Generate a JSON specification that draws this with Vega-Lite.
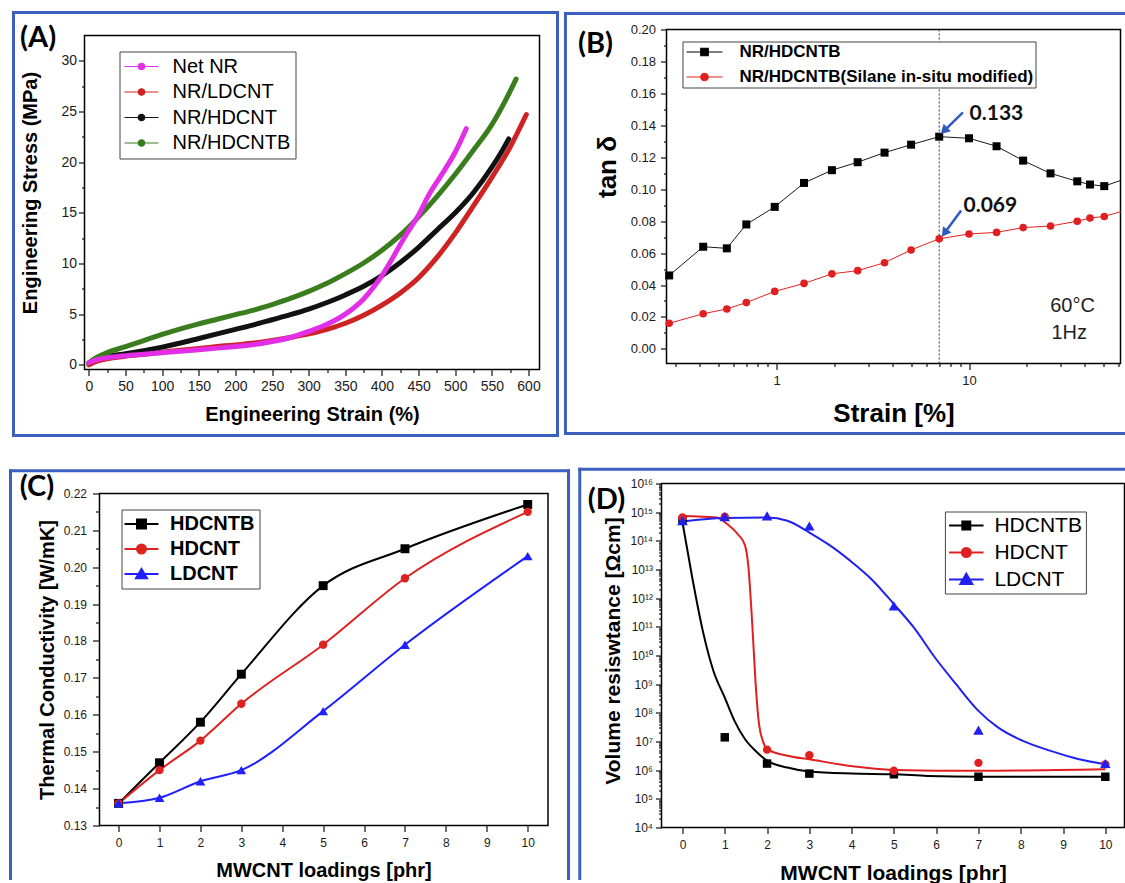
{
  "$schema": "https://vega.github.io/schema/vega-lite/v6.json",
  "background": "white",
  "padding": {"left": 7.5, "top": 10.5, "right": 0, "bottom": 0},
  "config": {
    "font": "Liberation Sans",
    "view": {"stroke": "#000000", "strokeWidth": 1.5},
    "axis": {"grid": false, "domain": false, "tickColor": "#111111", "tickWidth": 1.2, "labelColor": "#1a1a1a", "titleColor": "#000000", "titleFontWeight": "bold", "labelFlush": false, "labelOverlap": false, "labelBound": false},
    "legend": {"cornerRadius": 0}
  },
  "datasets": {
    "A": [
      {"series": "Net NR", "strain": 0, "stress": 0.2}, {"series": "Net NR", "strain": 10, "stress": 0.5}, {"series": "Net NR", "strain": 25, "stress": 0.7}, {"series": "Net NR", "strain": 50, "stress": 0.9}, {"series": "Net NR", "strain": 75, "stress": 1.05}, {"series": "Net NR", "strain": 100, "stress": 1.2}, {"series": "Net NR", "strain": 125, "stress": 1.35}, {"series": "Net NR", "strain": 150, "stress": 1.5}, {"series": "Net NR", "strain": 175, "stress": 1.65}, {"series": "Net NR", "strain": 200, "stress": 1.8}, {"series": "Net NR", "strain": 225, "stress": 2.0}, {"series": "Net NR", "strain": 250, "stress": 2.3}, {"series": "Net NR", "strain": 275, "stress": 2.7}, {"series": "Net NR", "strain": 300, "stress": 3.3}, {"series": "Net NR", "strain": 325, "stress": 4.0}, {"series": "Net NR", "strain": 350, "stress": 5.0}, {"series": "Net NR", "strain": 375, "stress": 6.5}, {"series": "Net NR", "strain": 390, "stress": 7.8}, {"series": "Net NR", "strain": 400, "stress": 8.8}, {"series": "Net NR", "strain": 415, "stress": 10.6}, {"series": "Net NR", "strain": 430, "stress": 12.5}, {"series": "Net NR", "strain": 450, "stress": 14.8}, {"series": "Net NR", "strain": 465, "stress": 16.9}, {"series": "Net NR", "strain": 480, "stress": 18.6}, {"series": "Net NR", "strain": 500, "stress": 21.0}, {"series": "Net NR", "strain": 515, "stress": 23.3},
      {"series": "NR/LDCNT", "strain": 0, "stress": 0.0}, {"series": "NR/LDCNT", "strain": 10, "stress": 0.35}, {"series": "NR/LDCNT", "strain": 25, "stress": 0.6}, {"series": "NR/LDCNT", "strain": 50, "stress": 0.85}, {"series": "NR/LDCNT", "strain": 75, "stress": 1.05}, {"series": "NR/LDCNT", "strain": 100, "stress": 1.25}, {"series": "NR/LDCNT", "strain": 125, "stress": 1.45}, {"series": "NR/LDCNT", "strain": 150, "stress": 1.62}, {"series": "NR/LDCNT", "strain": 175, "stress": 1.8}, {"series": "NR/LDCNT", "strain": 200, "stress": 1.97}, {"series": "NR/LDCNT", "strain": 225, "stress": 2.15}, {"series": "NR/LDCNT", "strain": 250, "stress": 2.4}, {"series": "NR/LDCNT", "strain": 275, "stress": 2.7}, {"series": "NR/LDCNT", "strain": 300, "stress": 3.05}, {"series": "NR/LDCNT", "strain": 325, "stress": 3.5}, {"series": "NR/LDCNT", "strain": 350, "stress": 4.1}, {"series": "NR/LDCNT", "strain": 375, "stress": 4.9}, {"series": "NR/LDCNT", "strain": 400, "stress": 5.9}, {"series": "NR/LDCNT", "strain": 425, "stress": 7.1}, {"series": "NR/LDCNT", "strain": 450, "stress": 8.6}, {"series": "NR/LDCNT", "strain": 475, "stress": 10.6}, {"series": "NR/LDCNT", "strain": 500, "stress": 13.0}, {"series": "NR/LDCNT", "strain": 525, "stress": 15.7}, {"series": "NR/LDCNT", "strain": 550, "stress": 18.5}, {"series": "NR/LDCNT", "strain": 575, "stress": 21.5}, {"series": "NR/LDCNT", "strain": 597, "stress": 24.7},
      {"series": "NR/HDCNT", "strain": 0, "stress": 0.2}, {"series": "NR/HDCNT", "strain": 10, "stress": 0.6}, {"series": "NR/HDCNT", "strain": 25, "stress": 0.85}, {"series": "NR/HDCNT", "strain": 50, "stress": 1.1}, {"series": "NR/HDCNT", "strain": 75, "stress": 1.4}, {"series": "NR/HDCNT", "strain": 100, "stress": 1.75}, {"series": "NR/HDCNT", "strain": 125, "stress": 2.15}, {"series": "NR/HDCNT", "strain": 150, "stress": 2.6}, {"series": "NR/HDCNT", "strain": 175, "stress": 3.05}, {"series": "NR/HDCNT", "strain": 200, "stress": 3.5}, {"series": "NR/HDCNT", "strain": 225, "stress": 3.95}, {"series": "NR/HDCNT", "strain": 250, "stress": 4.45}, {"series": "NR/HDCNT", "strain": 275, "stress": 4.95}, {"series": "NR/HDCNT", "strain": 300, "stress": 5.5}, {"series": "NR/HDCNT", "strain": 325, "stress": 6.15}, {"series": "NR/HDCNT", "strain": 350, "stress": 6.9}, {"series": "NR/HDCNT", "strain": 375, "stress": 7.75}, {"series": "NR/HDCNT", "strain": 400, "stress": 8.8}, {"series": "NR/HDCNT", "strain": 425, "stress": 10.1}, {"series": "NR/HDCNT", "strain": 450, "stress": 11.6}, {"series": "NR/HDCNT", "strain": 475, "stress": 13.3}, {"series": "NR/HDCNT", "strain": 500, "stress": 15.0}, {"series": "NR/HDCNT", "strain": 525, "stress": 17.0}, {"series": "NR/HDCNT", "strain": 550, "stress": 19.5}, {"series": "NR/HDCNT", "strain": 563, "stress": 21.0}, {"series": "NR/HDCNT", "strain": 573, "stress": 22.3},
      {"series": "NR/HDCNTB", "strain": 0, "stress": 0.2}, {"series": "NR/HDCNTB", "strain": 10, "stress": 0.7}, {"series": "NR/HDCNTB", "strain": 25, "stress": 1.2}, {"series": "NR/HDCNTB", "strain": 50, "stress": 1.8}, {"series": "NR/HDCNTB", "strain": 75, "stress": 2.4}, {"series": "NR/HDCNTB", "strain": 100, "stress": 3.0}, {"series": "NR/HDCNTB", "strain": 125, "stress": 3.55}, {"series": "NR/HDCNTB", "strain": 150, "stress": 4.05}, {"series": "NR/HDCNTB", "strain": 175, "stress": 4.5}, {"series": "NR/HDCNTB", "strain": 200, "stress": 4.95}, {"series": "NR/HDCNTB", "strain": 225, "stress": 5.4}, {"series": "NR/HDCNTB", "strain": 250, "stress": 5.95}, {"series": "NR/HDCNTB", "strain": 275, "stress": 6.55}, {"series": "NR/HDCNTB", "strain": 300, "stress": 7.25}, {"series": "NR/HDCNTB", "strain": 325, "stress": 8.05}, {"series": "NR/HDCNTB", "strain": 350, "stress": 9.0}, {"series": "NR/HDCNTB", "strain": 375, "stress": 10.05}, {"series": "NR/HDCNTB", "strain": 400, "stress": 11.3}, {"series": "NR/HDCNTB", "strain": 425, "stress": 12.8}, {"series": "NR/HDCNTB", "strain": 450, "stress": 14.6}, {"series": "NR/HDCNTB", "strain": 475, "stress": 16.6}, {"series": "NR/HDCNTB", "strain": 500, "stress": 18.8}, {"series": "NR/HDCNTB", "strain": 525, "stress": 21.2}, {"series": "NR/HDCNTB", "strain": 550, "stress": 23.7}, {"series": "NR/HDCNTB", "strain": 570, "stress": 26.3}, {"series": "NR/HDCNTB", "strain": 583, "stress": 28.2}
    ],
    "B": [
      {"series": "NR/HDCNTB", "strain": 0.277, "tand": 0.046}, {"series": "NR/HDCNTB", "strain": 0.416, "tand": 0.064}, {"series": "NR/HDCNTB", "strain": 0.552, "tand": 0.063}, {"series": "NR/HDCNTB", "strain": 0.697, "tand": 0.078}, {"series": "NR/HDCNTB", "strain": 0.979, "tand": 0.089}, {"series": "NR/HDCNTB", "strain": 1.39, "tand": 0.104}, {"series": "NR/HDCNTB", "strain": 1.94, "tand": 0.112}, {"series": "NR/HDCNTB", "strain": 2.64, "tand": 0.117}, {"series": "NR/HDCNTB", "strain": 3.64, "tand": 0.123}, {"series": "NR/HDCNTB", "strain": 5.0, "tand": 0.128}, {"series": "NR/HDCNTB", "strain": 7.0, "tand": 0.133}, {"series": "NR/HDCNTB", "strain": 10.0, "tand": 0.132}, {"series": "NR/HDCNTB", "strain": 13.9, "tand": 0.127}, {"series": "NR/HDCNTB", "strain": 19.1, "tand": 0.118}, {"series": "NR/HDCNTB", "strain": 26.5, "tand": 0.110}, {"series": "NR/HDCNTB", "strain": 36.5, "tand": 0.105}, {"series": "NR/HDCNTB", "strain": 42.5, "tand": 0.103}, {"series": "NR/HDCNTB", "strain": 50.4, "tand": 0.102}, {"series": "NR/HDCNTB", "strain": 70, "tand": 0.108},
      {"series": "NR/HDCNTB(Silane in-situ modified)", "strain": 0.277, "tand": 0.016}, {"series": "NR/HDCNTB(Silane in-situ modified)", "strain": 0.416, "tand": 0.022}, {"series": "NR/HDCNTB(Silane in-situ modified)", "strain": 0.552, "tand": 0.025}, {"series": "NR/HDCNTB(Silane in-situ modified)", "strain": 0.697, "tand": 0.029}, {"series": "NR/HDCNTB(Silane in-situ modified)", "strain": 0.979, "tand": 0.036}, {"series": "NR/HDCNTB(Silane in-situ modified)", "strain": 1.39, "tand": 0.041}, {"series": "NR/HDCNTB(Silane in-situ modified)", "strain": 1.94, "tand": 0.047}, {"series": "NR/HDCNTB(Silane in-situ modified)", "strain": 2.64, "tand": 0.049}, {"series": "NR/HDCNTB(Silane in-situ modified)", "strain": 3.64, "tand": 0.054}, {"series": "NR/HDCNTB(Silane in-situ modified)", "strain": 5.0, "tand": 0.062}, {"series": "NR/HDCNTB(Silane in-situ modified)", "strain": 7.0, "tand": 0.069}, {"series": "NR/HDCNTB(Silane in-situ modified)", "strain": 10.0, "tand": 0.072}, {"series": "NR/HDCNTB(Silane in-situ modified)", "strain": 13.9, "tand": 0.073}, {"series": "NR/HDCNTB(Silane in-situ modified)", "strain": 19.1, "tand": 0.076}, {"series": "NR/HDCNTB(Silane in-situ modified)", "strain": 26.5, "tand": 0.077}, {"series": "NR/HDCNTB(Silane in-situ modified)", "strain": 36.5, "tand": 0.080}, {"series": "NR/HDCNTB(Silane in-situ modified)", "strain": 42.5, "tand": 0.082}, {"series": "NR/HDCNTB(Silane in-situ modified)", "strain": 50.4, "tand": 0.083}, {"series": "NR/HDCNTB(Silane in-situ modified)", "strain": 70, "tand": 0.088}
    ],
    "C": [
      {"series": "HDCNTB", "loading": 0, "tc": 0.136}, {"series": "HDCNTB", "loading": 1, "tc": 0.147}, {"series": "HDCNTB", "loading": 2, "tc": 0.158}, {"series": "HDCNTB", "loading": 3, "tc": 0.171}, {"series": "HDCNTB", "loading": 5, "tc": 0.195}, {"series": "HDCNTB", "loading": 7, "tc": 0.205}, {"series": "HDCNTB", "loading": 10, "tc": 0.217},
      {"series": "HDCNT", "loading": 0, "tc": 0.136}, {"series": "HDCNT", "loading": 1, "tc": 0.145}, {"series": "HDCNT", "loading": 2, "tc": 0.153}, {"series": "HDCNT", "loading": 3, "tc": 0.163}, {"series": "HDCNT", "loading": 5, "tc": 0.179}, {"series": "HDCNT", "loading": 7, "tc": 0.197}, {"series": "HDCNT", "loading": 10, "tc": 0.215},
      {"series": "LDCNT", "loading": 0, "tc": 0.136}, {"series": "LDCNT", "loading": 1, "tc": 0.1375}, {"series": "LDCNT", "loading": 2, "tc": 0.142}, {"series": "LDCNT", "loading": 3, "tc": 0.145}, {"series": "LDCNT", "loading": 5, "tc": 0.161}, {"series": "LDCNT", "loading": 7, "tc": 0.179}, {"series": "LDCNT", "loading": 10, "tc": 0.203}
    ],
    "Dpts": [
      {"series": "HDCNTB", "loading": 0, "rho": 5.0e14}, {"series": "HDCNTB", "loading": 1, "rho": 1.4e7}, {"series": "HDCNTB", "loading": 2, "rho": 1.7e6}, {"series": "HDCNTB", "loading": 3, "rho": 7.6e5}, {"series": "HDCNTB", "loading": 5, "rho": 7.2e5}, {"series": "HDCNTB", "loading": 7, "rho": 5.9e5}, {"series": "HDCNTB", "loading": 10, "rho": 5.9e5},
      {"series": "HDCNT", "loading": 0, "rho": 6.5e14}, {"series": "HDCNT", "loading": 1, "rho": 6.9e14}, {"series": "HDCNT", "loading": 2, "rho": 5.2e6}, {"series": "HDCNT", "loading": 3, "rho": 3.3e6}, {"series": "HDCNT", "loading": 5, "rho": 9.5e5}, {"series": "HDCNT", "loading": 7, "rho": 1.8e6}, {"series": "HDCNT", "loading": 10, "rho": 1.6e6},
      {"series": "LDCNT", "loading": 0, "rho": 5.0e14}, {"series": "LDCNT", "loading": 1, "rho": 6.9e14}, {"series": "LDCNT", "loading": 2, "rho": 7.4e14}, {"series": "LDCNT", "loading": 3, "rho": 3.3e14}, {"series": "LDCNT", "loading": 5, "rho": 5.4e11}, {"series": "LDCNT", "loading": 7, "rho": 2.5e7}, {"series": "LDCNT", "loading": 10, "rho": 1.7e6}
    ],
    "Dfit": [
      {"series": "HDCNTB", "loading": 0, "rho": 4.37e14}, {"series": "HDCNTB", "loading": 0.23, "rho": 5.25e12}, {"series": "HDCNTB", "loading": 0.48, "rho": 7.24e10}, {"series": "HDCNTB", "loading": 0.73, "rho": 2.95e9}, {"series": "HDCNTB", "loading": 1.0, "rho": 3.39e8}, {"series": "HDCNTB", "loading": 1.23, "rho": 5.25e7}, {"series": "HDCNTB", "loading": 1.48, "rho": 1.2e7}, {"series": "HDCNTB", "loading": 1.73, "rho": 4.68e6}, {"series": "HDCNTB", "loading": 2.0, "rho": 2.14e6}, {"series": "HDCNTB", "loading": 2.48, "rho": 1.23e6}, {"series": "HDCNTB", "loading": 3.0, "rho": 8.9e5}, {"series": "HDCNTB", "loading": 4.0, "rho": 7.6e5}, {"series": "HDCNTB", "loading": 5.0, "rho": 7.2e5}, {"series": "HDCNTB", "loading": 5.8, "rho": 6.3e5}, {"series": "HDCNTB", "loading": 7.0, "rho": 5.9e5}, {"series": "HDCNTB", "loading": 10.0, "rho": 5.9e5},
      {"series": "HDCNT", "loading": 0, "rho": 7.4e14}, {"series": "HDCNT", "loading": 0.81, "rho": 6.5e14}, {"series": "HDCNT", "loading": 1.06, "rho": 3.8e14}, {"series": "HDCNT", "loading": 1.31, "rho": 1.7e14}, {"series": "HDCNT", "loading": 1.48, "rho": 6.8e13}, {"series": "HDCNT", "loading": 1.56, "rho": 1.17e13}, {"series": "HDCNT", "loading": 1.65, "rho": 1.23e11}, {"series": "HDCNT", "loading": 1.73, "rho": 1.0e9}, {"series": "HDCNT", "loading": 1.81, "rho": 4.0e7}, {"series": "HDCNT", "loading": 1.9, "rho": 1.05e7}, {"series": "HDCNT", "loading": 2.0, "rho": 5.4e6}, {"series": "HDCNT", "loading": 2.48, "rho": 3.2e6}, {"series": "HDCNT", "loading": 3.0, "rho": 2.4e6}, {"series": "HDCNT", "loading": 3.97, "rho": 1.4e6}, {"series": "HDCNT", "loading": 5.0, "rho": 1.02e6}, {"series": "HDCNT", "loading": 7.0, "rho": 9.5e5}, {"series": "HDCNT", "loading": 10.0, "rho": 1.07e6},
      {"series": "LDCNT", "loading": 0, "rho": 4.7e14}, {"series": "LDCNT", "loading": 1.0, "rho": 6.2e14}, {"series": "LDCNT", "loading": 2.0, "rho": 6.5e14}, {"series": "LDCNT", "loading": 2.48, "rho": 5.0e14}, {"series": "LDCNT", "loading": 3.0, "rho": 1.95e14}, {"series": "LDCNT", "loading": 3.47, "rho": 7.2e13}, {"series": "LDCNT", "loading": 3.97, "rho": 2.0e13}, {"series": "LDCNT", "loading": 4.47, "rho": 4.6e12}, {"series": "LDCNT", "loading": 5.0, "rho": 6.2e11}, {"series": "LDCNT", "loading": 5.47, "rho": 9.5e10}, {"series": "LDCNT", "loading": 5.97, "rho": 8.5e9}, {"series": "LDCNT", "loading": 6.47, "rho": 1.0e9}, {"series": "LDCNT", "loading": 7.0, "rho": 1.17e8}, {"series": "LDCNT", "loading": 7.46, "rho": 3.1e7}, {"series": "LDCNT", "loading": 8.05, "rho": 1.05e7}, {"series": "LDCNT", "loading": 8.71, "rho": 4.7e6}, {"series": "LDCNT", "loading": 9.38, "rho": 2.4e6}, {"series": "LDCNT", "loading": 10.0, "rho": 1.6e6}
    ]
  },
  "spacing": 28,
  "resolve": {"scale": {"fill": "independent", "stroke": "independent", "shape": "independent"}, "legend": {"fill": "independent", "stroke": "independent", "shape": "independent"}},
  "vconcat": [
    {
      "spacing": 3,
      "resolve": {"scale": {"fill": "independent", "stroke": "independent", "shape": "independent"}, "legend": {"fill": "independent", "stroke": "independent", "shape": "independent"}},
      "hconcat": [
        {
          "width": 455, "height": 340,
          "view": {"stroke": null},
          "layer": [
            {"data": {"values": [{}]}, "mark": {"type": "rect", "filled": false, "stroke": "#3c5fc0", "strokeWidth": 3},
             "encoding": {"x": {"datum": -102.9, "type": "quantitative"}, "x2": {"datum": 639.6}, "y": {"datum": 34.77, "type": "quantitative"}, "y2": {"datum": -6.97}}},
            {"data": {"values": [{}]}, "mark": {"type": "rect", "filled": false, "stroke": "#000000", "strokeWidth": 1.5},
             "encoding": {"x": {"datum": -6, "type": "quantitative"}, "x2": {"datum": 615}, "y": {"datum": 32.5, "type": "quantitative"}, "y2": {"datum": -0.46}}},
            {"data": {"name": "A"}, "transform": [{"filter": "datum.series === 'NR/LDCNT'"}],
             "mark": {"type": "line", "color": "#cf2222", "strokeWidth": 5, "interpolate": "monotone", "strokeCap": "round"},
             "encoding": {
               "x": {"field": "strain", "type": "quantitative", "scale": {"domain": [-6, 615], "nice": false, "zero": false},
                     "axis": {"title": "Engineering Strain (%)", "titleFontSize": 20, "titlePadding": 11, "labelFontSize": 14, "labelPadding": 4, "labelOverlap": false, "tickCount": 500, "format": "d",
                              "values": [0,25,50,75,100,125,150,175,200,225,250,275,300,325,350,375,400,425,450,475,500,525,550,575,600],
                              "labelExpr": "datum.value % 50 === 0 ? datum.label : ''",
                              "tickSize": {"condition": {"test": "datum.value % 50 === 0", "value": 6}, "value": 3}}},
               "y": {"field": "stress", "type": "quantitative", "scale": {"domain": [-0.46, 33.09], "nice": false, "zero": false},
                     "axis": {"title": "Engineering Stress (MPa)", "titleFontSize": 20, "titlePadding": 20, "titleY": 163, "labelFontSize": 14, "labelPadding": 2, "labelOverlap": false, "tickCount": 500, "format": "d",
                              "values": [0,2.5,5,7.5,10,12.5,15,17.5,20,22.5,25,27.5,30],
                              "labelExpr": "datum.value % 5 === 0 ? datum.label : ''",
                              "tickSize": {"condition": {"test": "datum.value % 5 === 0", "value": 6}, "value": 3}}}}},
            {"data": {"name": "A"}, "transform": [{"filter": "datum.series === 'NR/HDCNT'"}],
             "mark": {"type": "line", "color": "#111111", "strokeWidth": 5, "interpolate": "monotone", "strokeCap": "round"},
             "encoding": {"x": {"field": "strain", "type": "quantitative"}, "y": {"field": "stress", "type": "quantitative"}}},
            {"data": {"name": "A"}, "transform": [{"filter": "datum.series === 'NR/HDCNTB'"}],
             "mark": {"type": "line", "color": "#3a7d1c", "strokeWidth": 5, "interpolate": "monotone", "strokeCap": "round"},
             "encoding": {"x": {"field": "strain", "type": "quantitative"}, "y": {"field": "stress", "type": "quantitative"}}},
            {"data": {"name": "A"}, "transform": [{"filter": "datum.series === 'Net NR'"}],
             "mark": {"type": "line", "color": "#e22ee6", "strokeWidth": 5, "interpolate": "monotone", "strokeCap": "round"},
             "encoding": {"x": {"field": "strain", "type": "quantitative"}, "y": {"field": "stress", "type": "quantitative"}}},
            {"data": {"name": "A"}, "transform": [{"filter": "false"}],
             "mark": {"type": "point", "filled": true, "opacity": 1, "size": 100, "strokeWidth": 1.2},
             "encoding": {
               "fill": {"field": "series", "type": "nominal",
                        "scale": {"domain": ["Net NR", "NR/LDCNT", "NR/HDCNT", "NR/HDCNTB"], "range": ["#e22ee6", "#cf2222", "#111111", "#3a7d1c"]},
                        "legend": {"title": null, "orient": "none", "legendX": 35, "legendY": 22, "padding": 5, "strokeColor": "#444444", "fillColor": "#ffffff", "labelFontSize": 20, "labelColor": "#000000", "symbolType": "M-3.4,0L3.4,0M-0.65,0A0.65,0.65,0,1,0,0.65,0A0.65,0.65,0,1,0,-0.65,0Z", "symbolSize": 100, "symbolStrokeWidth": 1.2, "symbolOffset": 7, "labelOffset": 21, "rowPadding": 5.5, "labelLimit": 500}},
               "stroke": {"field": "series", "type": "nominal",
                        "scale": {"domain": ["Net NR", "NR/LDCNT", "NR/HDCNT", "NR/HDCNTB"], "range": ["#e22ee6", "#cf2222", "#111111", "#3a7d1c"]},
                        "legend": {"title": null, "orient": "none", "legendX": 35, "legendY": 22, "padding": 5, "strokeColor": "#444444", "fillColor": "#ffffff", "labelFontSize": 20, "labelColor": "#000000", "symbolType": "M-3.4,0L3.4,0M-0.65,0A0.65,0.65,0,1,0,0.65,0A0.65,0.65,0,1,0,-0.65,0Z", "symbolSize": 100, "symbolStrokeWidth": 1.2, "symbolOffset": 7, "labelOffset": 21, "rowPadding": 5.5, "labelLimit": 500}}}},
            {"data": {"values": [{}]}, "mark": {"type": "text", "text": "(A)", "font": "Lato", "fontSize": 29, "fontWeight": "bold", "color": "#000000", "align": "center", "baseline": "middle"},
             "encoding": {"x": {"datum": -69.3, "type": "quantitative"}, "y": {"datum": 32.25, "type": "quantitative"}}}
          ]
        },
        {
          "width": 454, "height": 334,
          "layer": [
            {"data": {"values": [{}]}, "mark": {"type": "rule", "stroke": "#3c5fc0", "strokeWidth": 3, "strokeCap": "square"},
             "encoding": {"x": {"datum": 0.08014, "type": "quantitative"}, "x2": {"datum": 64.5}, "y": {"datum": 0.2102, "type": "quantitative"}}},
            {"data": {"values": [{}]}, "mark": {"type": "rule", "stroke": "#3c5fc0", "strokeWidth": 3, "strokeCap": "square"},
             "encoding": {"x": {"datum": 0.08014, "type": "quantitative"}, "y": {"datum": 0.2102, "type": "quantitative"}, "y2": {"datum": -0.0531}}},
            {"data": {"values": [{}]}, "mark": {"type": "rule", "stroke": "#3c5fc0", "strokeWidth": 3, "strokeCap": "square"},
             "encoding": {"x": {"datum": 0.08014, "type": "quantitative"}, "x2": {"datum": 64.5}, "y": {"datum": -0.0531, "type": "quantitative"}}},
            {"data": {"values": [{}]}, "mark": {"type": "rule", "stroke": "#333333", "strokeWidth": 1, "strokeDash": [2, 2]},
             "encoding": {"x": {"datum": 7, "type": "quantitative"}}},
            {"data": {"name": "B"}, "transform": [{"filter": "datum.series === 'NR/HDCNTB'"}],
             "mark": {"type": "line", "color": "#1a1a1a", "strokeWidth": 1, "clip": true},
             "encoding": {
               "x": {"field": "strain", "type": "quantitative", "scale": {"type": "log", "domain": [0.2683, 61.2], "nice": false},
                     "axis": {"title": "Strain [%]", "titleFontSize": 26, "titlePadding": 13, "labelFontSize": 13, "labelPadding": 5, "labelOverlap": false, "tickCount": 500,
                              "values": [0.3,0.4,0.5,0.6,0.7,0.8,0.9,1,2,3,4,5,6,7,8,9,10,20,30,40,50,60],
                              "labelExpr": "datum.value === 1 ? '1' : (datum.value === 10 ? '10' : '')",
                              "tickSize": {"condition": {"test": "datum.value === 1 || datum.value === 10", "value": 6}, "value": 3}}},
               "y": {"field": "tand", "type": "quantitative", "scale": {"domain": [-0.0092, 0.2002], "nice": false, "zero": false},
                     "axis": {"title": "tan δ", "titleFontSize": 26, "titlePadding": 10, "titleY": 137, "labelFontSize": 13, "labelPadding": 5, "format": ".2f", "labelOverlap": false, "tickCount": 500,
                              "values": [0,0.01,0.02,0.03,0.04,0.05,0.06,0.07,0.08,0.09,0.1,0.11,0.12,0.13,0.14,0.15,0.16,0.17,0.18,0.19,0.2],
                              "labelExpr": "round(datum.value * 100) % 2 === 0 ? datum.label : ''",
                              "tickSize": {"condition": {"test": "round(datum.value * 100) % 2 === 0", "value": 6}, "value": 3}}}}},
            {"data": {"name": "B"}, "transform": [{"filter": "datum.series === 'NR/HDCNTB(Silane in-situ modified)'"}],
             "mark": {"type": "line", "color": "#e82020", "strokeWidth": 1, "clip": true},
             "encoding": {"x": {"field": "strain", "type": "quantitative"}, "y": {"field": "tand", "type": "quantitative"}}},
            {"data": {"name": "B"}, "transform": [{"filter": "datum.series === 'NR/HDCNTB' && datum.strain < 65"}],
             "mark": {"type": "point", "shape": "square", "filled": true, "color": "#000000", "size": 64, "opacity": 1},
             "encoding": {"x": {"field": "strain", "type": "quantitative"}, "y": {"field": "tand", "type": "quantitative"}}},
            {"data": {"name": "B"}, "transform": [{"filter": "datum.series === 'NR/HDCNTB(Silane in-situ modified)' && datum.strain < 65"}],
             "mark": {"type": "point", "shape": "circle", "filled": true, "color": "#e02020", "size": 58, "opacity": 1},
             "encoding": {"x": {"field": "strain", "type": "quantitative"}, "y": {"field": "tand", "type": "quantitative"}}},
            {"data": {"name": "B"}, "transform": [{"filter": "false"}],
             "mark": {"type": "point", "filled": true, "opacity": 1, "size": 100, "strokeWidth": 1.2},
             "encoding": {
               "fill": {"field": "series", "type": "nominal",
                        "scale": {"domain": ["NR/HDCNTB", "NR/HDCNTB(Silane in-situ modified)"], "range": ["#000000", "#e02020"]},
                        "legend": {"title": null, "orient": "none", "legendX": 16, "legendY": 12, "padding": 2, "strokeColor": "#444444", "fillColor": "#ffffff", "labelFontSize": 17, "labelFontWeight": "bold", "labelColor": "#000000", "symbolSize": 100, "symbolStrokeWidth": 1.2, "symbolOffset": 11.5, "labelOffset": 26.5, "rowPadding": 7, "labelLimit": 500}},
               "stroke": {"field": "series", "type": "nominal",
                        "scale": {"domain": ["NR/HDCNTB", "NR/HDCNTB(Silane in-situ modified)"], "range": ["#000000", "#e02020"]},
                        "legend": {"title": null, "orient": "none", "legendX": 16, "legendY": 12, "padding": 2, "strokeColor": "#444444", "fillColor": "#ffffff", "labelFontSize": 17, "labelFontWeight": "bold", "labelColor": "#000000", "symbolSize": 100, "symbolStrokeWidth": 1.2, "symbolOffset": 11.5, "labelOffset": 26.5, "rowPadding": 7, "labelLimit": 500}},
               "shape": {"field": "series", "type": "nominal",
                        "scale": {"domain": ["NR/HDCNTB", "NR/HDCNTB(Silane in-situ modified)"], "range": ["M-3.6,0L3.6,0M-0.75,-0.75L0.75,-0.75L0.75,0.75L-0.75,0.75Z", "M-3.6,0L3.6,0M-0.75,0A0.75,0.75,0,1,0,0.75,0A0.75,0.75,0,1,0,-0.75,0Z"]},
                        "legend": {"title": null, "orient": "none", "legendX": 16, "legendY": 12, "padding": 2, "strokeColor": "#444444", "fillColor": "#ffffff", "labelFontSize": 17, "labelFontWeight": "bold", "labelColor": "#000000", "symbolSize": 100, "symbolStrokeWidth": 1.2, "symbolOffset": 11.5, "labelOffset": 26.5, "rowPadding": 7, "labelLimit": 500}}}},
            {"data": {"values": [{}]}, "mark": {"type": "rule", "stroke": "#2f5bbf", "strokeWidth": 2.5},
             "encoding": {"x": {"datum": 9.30, "type": "quantitative"}, "y": {"datum": 0.1483, "type": "quantitative"}, "x2": {"datum": 7.417}, "y2": {"datum": 0.1367}}},
            {"data": {"values": [{}]}, "mark": {"type": "point", "shape": "triangle-up", "filled": true, "color": "#2f5bbf", "size": 110, "angle": 225.5, "opacity": 1},
             "encoding": {"x": {"datum": 7.417, "type": "quantitative"}, "y": {"datum": 0.1367, "type": "quantitative"}}},
            {"data": {"values": [{}]}, "mark": {"type": "rule", "stroke": "#2f5bbf", "strokeWidth": 2.5},
             "encoding": {"x": {"datum": 9.10, "type": "quantitative"}, "y": {"datum": 0.0867, "type": "quantitative"}, "x2": {"datum": 7.459}, "y2": {"datum": 0.0726}}},
            {"data": {"values": [{}]}, "mark": {"type": "point", "shape": "triangle-up", "filled": true, "color": "#2f5bbf", "size": 110, "angle": 216.4, "opacity": 1},
             "encoding": {"x": {"datum": 7.459, "type": "quantitative"}, "y": {"datum": 0.0726, "type": "quantitative"}}},
            {"data": {"values": [{}]}, "mark": {"type": "text", "text": "0.133", "font": "Lato", "fontSize": 21, "fontWeight": "bold", "color": "#111111", "align": "left", "baseline": "middle"},
             "encoding": {"x": {"datum": 10.06, "type": "quantitative"}, "y": {"datum": 0.1475, "type": "quantitative"}}},
            {"data": {"values": [{}]}, "mark": {"type": "text", "text": "0.069", "font": "Lato", "fontSize": 21, "fontWeight": "bold", "color": "#111111", "align": "left", "baseline": "middle"},
             "encoding": {"x": {"datum": 9.36, "type": "quantitative"}, "y": {"datum": 0.0898, "type": "quantitative"}}},
            {"data": {"values": [{}]}, "mark": {"type": "text", "text": "60°C", "fontSize": 20, "color": "#222222", "align": "left", "baseline": "middle"},
             "encoding": {"x": {"datum": 26.4, "type": "quantitative"}, "y": {"datum": 0.0271, "type": "quantitative"}}},
            {"data": {"values": [{}]}, "mark": {"type": "text", "text": "1Hz", "fontSize": 20, "color": "#222222", "align": "left", "baseline": "middle"},
             "encoding": {"x": {"datum": 26.8, "type": "quantitative"}, "y": {"datum": 0.0102, "type": "quantitative"}}},
            {"data": {"values": [{}]}, "mark": {"type": "text", "text": "(B)", "font": "Lato", "fontSize": 29, "fontWeight": "bold", "color": "#000000", "align": "center", "baseline": "middle"},
             "encoding": {"x": {"datum": 0.1148, "type": "quantitative"}, "y": {"datum": 0.1908, "type": "quantitative"}}}
          ]
        }
      ]
    },
    {
      "spacing": 5,
      "resolve": {"scale": {"fill": "independent", "stroke": "independent", "shape": "independent"}, "legend": {"fill": "independent", "stroke": "independent", "shape": "independent"}},
      "hconcat": [
        {
          "width": 463.5, "height": 342,
          "view": {"stroke": null},
          "layer": [
            {"data": {"values": [{}]}, "mark": {"type": "rule", "stroke": "#3c5fc0", "strokeWidth": 3, "strokeCap": "square"},
             "encoding": {"x": {"datum": -2.642, "type": "quantitative"}, "y": {"datum": 0.22612, "type": "quantitative"}, "y2": {"datum": 0.11564}}},
            {"data": {"values": [{}]}, "mark": {"type": "rule", "stroke": "#3c5fc0", "strokeWidth": 3, "strokeCap": "square"},
             "encoding": {"x": {"datum": 10.997, "type": "quantitative"}, "y": {"datum": 0.22612, "type": "quantitative"}, "y2": {"datum": 0.11564}}},
            {"data": {"values": [{}]}, "mark": {"type": "rule", "stroke": "#3c5fc0", "strokeWidth": 3, "strokeCap": "square"},
             "encoding": {"x": {"datum": -2.642, "type": "quantitative"}, "x2": {"datum": 10.997}, "y": {"datum": 0.22612, "type": "quantitative"}}},
            {"data": {"values": [{}]}, "mark": {"type": "rect", "filled": false, "stroke": "#000000", "strokeWidth": 1.5},
             "encoding": {"x": {"datum": -0.467, "type": "quantitative"}, "x2": {"datum": 10.496}, "y": {"datum": 0.13, "type": "quantitative"}, "y2": {"datum": 0.22}}},
            {"data": {"name": "C"}, "transform": [{"filter": "datum.series === 'HDCNTB'"}],
             "mark": {"type": "line", "color": "#000000", "strokeWidth": 2, "interpolate": "monotone"},
             "encoding": {
               "x": {"field": "loading", "type": "quantitative", "scale": {"domain": [-0.8335, 10.496], "nice": false, "zero": false},
                     "axis": {"title": "MWCNT loadings [phr]", "titleFontSize": 20, "titlePadding": 12, "titleX": 239, "labelFontSize": 12, "labelPadding": 6, "labelOverlap": false, "tickCount": 500, "format": "d",
                              "values": [0,0.5,1,1.5,2,2.5,3,3.5,4,4.5,5,5.5,6,6.5,7,7.5,8,8.5,9,9.5,10],
                              "labelExpr": "datum.value % 1 === 0 ? datum.label : ''",
                              "tickSize": {"condition": {"test": "datum.value % 1 === 0", "value": 6}, "value": 3}}},
               "y": {"field": "tc", "type": "quantitative", "scale": {"domain": [0.13, 0.22268], "nice": false, "zero": false},
                     "axis": {"title": "Thermal Conductivity [W/mK]", "titleFontSize": 20, "titlePadding": 6, "titleY": 176, "offset": -15, "labelFontSize": 12, "labelPadding": 6, "format": ".2f", "labelOverlap": false, "tickCount": 500,
                              "values": [0.13,0.135,0.14,0.145,0.15,0.155,0.16,0.165,0.17,0.175,0.18,0.185,0.19,0.195,0.2,0.205,0.21,0.215,0.22],
                              "labelExpr": "round(datum.value * 1000) % 10 === 0 ? datum.label : ''",
                              "tickSize": {"condition": {"test": "round(datum.value * 1000) % 10 === 0", "value": 7}, "value": 4}}}}},
            {"data": {"name": "C"}, "transform": [{"filter": "datum.series === 'HDCNT'"}],
             "mark": {"type": "line", "color": "#dd2222", "strokeWidth": 2, "interpolate": "monotone"},
             "encoding": {"x": {"field": "loading", "type": "quantitative"}, "y": {"field": "tc", "type": "quantitative"}}},
            {"data": {"name": "C"}, "transform": [{"filter": "datum.series === 'LDCNT'"}],
             "mark": {"type": "line", "color": "#1f1fff", "strokeWidth": 2, "interpolate": "monotone"},
             "encoding": {"x": {"field": "loading", "type": "quantitative"}, "y": {"field": "tc", "type": "quantitative"}}},
            {"data": {"name": "C"}, "transform": [{"filter": "datum.series === 'HDCNTB'"}],
             "mark": {"type": "point", "shape": "square", "filled": true, "color": "#000000", "size": 80, "opacity": 1},
             "encoding": {"x": {"field": "loading", "type": "quantitative"}, "y": {"field": "tc", "type": "quantitative"}}},
            {"data": {"name": "C"}, "transform": [{"filter": "datum.series === 'HDCNT'"}],
             "mark": {"type": "point", "shape": "circle", "filled": true, "color": "#dd2222", "size": 70, "opacity": 1},
             "encoding": {"x": {"field": "loading", "type": "quantitative"}, "y": {"field": "tc", "type": "quantitative"}}},
            {"data": {"name": "C"}, "transform": [{"filter": "datum.series === 'LDCNT'"}],
             "mark": {"type": "point", "shape": "triangle-up", "filled": true, "color": "#1f1fff", "size": 95, "opacity": 1},
             "encoding": {"x": {"field": "loading", "type": "quantitative"}, "y": {"field": "tc", "type": "quantitative"}}},
            {"data": {"name": "C"}, "transform": [{"filter": "false"}],
             "mark": {"type": "point", "filled": true, "opacity": 1, "size": 100, "strokeWidth": 2},
             "encoding": {
               "fill": {"field": "series", "type": "nominal",
                        "scale": {"domain": ["HDCNTB", "HDCNT", "LDCNT"], "range": ["#000000", "#dd2222", "#1f1fff"]},
                        "legend": {"title": null, "orient": "none", "legendX": 37, "legendY": 26, "padding": 4.5, "strokeColor": "#444444", "fillColor": "#ffffff", "labelFontSize": 20, "labelFontWeight": "bold", "labelColor": "#000000", "symbolSize": 100, "symbolStrokeWidth": 2, "symbolOffset": 5.5, "labelOffset": 18.5, "rowPadding": 5, "labelLimit": 500}},
               "stroke": {"field": "series", "type": "nominal",
                        "scale": {"domain": ["HDCNTB", "HDCNT", "LDCNT"], "range": ["#000000", "#dd2222", "#1f1fff"]},
                        "legend": {"title": null, "orient": "none", "legendX": 37, "legendY": 26, "padding": 4.5, "strokeColor": "#444444", "fillColor": "#ffffff", "labelFontSize": 20, "labelFontWeight": "bold", "labelColor": "#000000", "symbolSize": 100, "symbolStrokeWidth": 2, "symbolOffset": 5.5, "labelOffset": 18.5, "rowPadding": 5, "labelLimit": 500}},
               "shape": {"field": "series", "type": "nominal",
                        "scale": {"domain": ["HDCNTB", "HDCNT", "LDCNT"], "range": ["M-3.4,0L3.4,0M-0.9,-0.9L0.9,-0.9L0.9,0.9L-0.9,0.9Z", "M-3.4,0L3.4,0M-0.9,0A0.9,0.9,0,1,0,0.9,0A0.9,0.9,0,1,0,-0.9,0Z", "M-3.4,0L3.4,0M0,-1L1.1,0.85L-1.1,0.85Z"]},
                        "legend": {"title": null, "orient": "none", "legendX": 37, "legendY": 26, "padding": 4.5, "strokeColor": "#444444", "fillColor": "#ffffff", "labelFontSize": 20, "labelFontWeight": "bold", "labelColor": "#000000", "symbolSize": 100, "symbolStrokeWidth": 2, "symbolOffset": 5.5, "labelOffset": 18.5, "rowPadding": 5, "labelLimit": 500}}}},
            {"data": {"values": [{}]}, "mark": {"type": "text", "text": "(C)", "font": "Lato", "fontSize": 29, "fontWeight": "bold", "color": "#000000", "align": "center", "baseline": "middle"},
             "encoding": {"x": {"datum": -1.995, "type": "quantitative"}, "y": {"datum": 0.2216, "type": "quantitative"}}}
          ]
        },
        {
          "width": 463, "height": 344,
          "layer": [
            {"data": {"values": [{}]}, "mark": {"type": "rule", "stroke": "#3c5fc0", "strokeWidth": 3, "strokeCap": "square"},
             "encoding": {"x": {"datum": -2.43, "type": "quantitative"}, "x2": {"datum": 10.43}, "y": {"datum": 3.154e16, "type": "quantitative"}}},
            {"data": {"values": [{}]}, "mark": {"type": "rule", "stroke": "#3c5fc0", "strokeWidth": 3, "strokeCap": "square"},
             "encoding": {"x": {"datum": -2.43, "type": "quantitative"}, "y": {"datum": 3.154e16, "type": "quantitative"}, "y2": {"datum": 166}}},
            {"data": {"name": "Dfit"}, "transform": [{"filter": "datum.series === 'HDCNTB'"}],
             "mark": {"type": "line", "color": "#000000", "strokeWidth": 2, "interpolate": "monotone"},
             "encoding": {
               "x": {"field": "loading", "type": "quantitative", "scale": {"domain": [-0.4967, 10.454], "nice": false, "zero": false},
                     "axis": {"title": "MWCNT loadings [phr]", "titleFontSize": 21, "titlePadding": 12, "labelFontSize": 12, "labelPadding": 6, "labelOverlap": false, "tickCount": 500, "format": "d",
                              "values": [0,0.5,1,1.5,2,2.5,3,3.5,4,4.5,5,5.5,6,6.5,7,7.5,8,8.5,9,9.5,10],
                              "labelExpr": "datum.value % 1 === 0 ? datum.label : ''",
                              "tickSize": {"condition": {"test": "datum.value % 1 === 0", "value": 6}, "value": 3}}},
               "y": {"field": "rho", "type": "quantitative", "scale": {"type": "log", "domain": [1e4, 1e16], "nice": false},
                     "axis": {"title": "Volume resiswtance [Ωcm]", "titleFontSize": 21, "titlePadding": 7, "titleY": 167, "labelFontSize": 12, "labelPadding": 3, "tickCount": 20, "labelOverlap": false,
                              "labelExpr": "abs(log(datum.value) / LN10 - round(log(datum.value) / LN10)) < 0.001 ? '10' + (round(log(datum.value) / LN10) >= 10 ? '¹' + substring('⁰¹²³⁴⁵⁶⁷⁸⁹', round(log(datum.value) / LN10) - 10, round(log(datum.value) / LN10) - 9) : substring('⁰¹²³⁴⁵⁶⁷⁸⁹', round(log(datum.value) / LN10), round(log(datum.value) / LN10) + 1)) : ''",
                              "tickSize": {"condition": {"test": "abs(log(datum.value) / LN10 - round(log(datum.value) / LN10)) < 0.001", "value": 6}, "value": 3}}}}},
            {"data": {"name": "Dfit"}, "transform": [{"filter": "datum.series === 'HDCNT'"}],
             "mark": {"type": "line", "color": "#e02020", "strokeWidth": 2, "interpolate": "monotone"},
             "encoding": {"x": {"field": "loading", "type": "quantitative"}, "y": {"field": "rho", "type": "quantitative"}}},
            {"data": {"name": "Dfit"}, "transform": [{"filter": "datum.series === 'LDCNT'"}],
             "mark": {"type": "line", "color": "#2020f0", "strokeWidth": 2, "interpolate": "monotone"},
             "encoding": {"x": {"field": "loading", "type": "quantitative"}, "y": {"field": "rho", "type": "quantitative"}}},
            {"data": {"name": "Dpts"}, "transform": [{"filter": "datum.series === 'HDCNTB'"}],
             "mark": {"type": "point", "shape": "square", "filled": true, "color": "#000000", "size": 72, "opacity": 1},
             "encoding": {"x": {"field": "loading", "type": "quantitative"}, "y": {"field": "rho", "type": "quantitative"}}},
            {"data": {"name": "Dpts"}, "transform": [{"filter": "datum.series === 'HDCNT'"}],
             "mark": {"type": "point", "shape": "circle", "filled": true, "color": "#e02020", "size": 70, "opacity": 1},
             "encoding": {"x": {"field": "loading", "type": "quantitative"}, "y": {"field": "rho", "type": "quantitative"}}},
            {"data": {"name": "Dpts"}, "transform": [{"filter": "datum.series === 'LDCNT'"}],
             "mark": {"type": "point", "shape": "triangle-up", "filled": true, "color": "#2020f0", "size": 110, "opacity": 1},
             "encoding": {"x": {"field": "loading", "type": "quantitative"}, "y": {"field": "rho", "type": "quantitative"}}},
            {"data": {"name": "Dpts"}, "transform": [{"filter": "false"}],
             "mark": {"type": "point", "filled": true, "opacity": 1, "size": 100, "strokeWidth": 2},
             "encoding": {
               "fill": {"field": "series", "type": "nominal",
                        "scale": {"domain": ["HDCNTB", "HDCNT", "LDCNT"], "range": ["#000000", "#e02020", "#2020f0"]},
                        "legend": {"title": null, "orient": "none", "legendX": 283.4, "legendY": 28, "padding": 3.5, "strokeColor": "#444444", "fillColor": "#ffffff", "labelFontSize": 21, "labelColor": "#000000", "symbolSize": 100, "symbolStrokeWidth": 2, "symbolOffset": 7.4, "labelOffset": 17.6, "rowPadding": 5, "labelLimit": 500}},
               "stroke": {"field": "series", "type": "nominal",
                        "scale": {"domain": ["HDCNTB", "HDCNT", "LDCNT"], "range": ["#000000", "#e02020", "#2020f0"]},
                        "legend": {"title": null, "orient": "none", "legendX": 283.4, "legendY": 28, "padding": 3.5, "strokeColor": "#444444", "fillColor": "#ffffff", "labelFontSize": 21, "labelColor": "#000000", "symbolSize": 100, "symbolStrokeWidth": 2, "symbolOffset": 7.4, "labelOffset": 17.6, "rowPadding": 5, "labelLimit": 500}},
               "shape": {"field": "series", "type": "nominal",
                        "scale": {"domain": ["HDCNTB", "HDCNT", "LDCNT"], "range": ["M-3.45,0L3.45,0M-0.8,-0.8L0.8,-0.8L0.8,0.8L-0.8,0.8Z", "M-3.45,0L3.45,0M-0.9,0A0.9,0.9,0,1,0,0.9,0A0.9,0.9,0,1,0,-0.9,0Z", "M-3.45,0L3.45,0M0,-1.15L1.2,0.9L-1.2,0.9Z"]},
                        "legend": {"title": null, "orient": "none", "legendX": 283.4, "legendY": 28, "padding": 3.5, "strokeColor": "#444444", "fillColor": "#ffffff", "labelFontSize": 21, "labelColor": "#000000", "symbolSize": 100, "symbolStrokeWidth": 2, "symbolOffset": 7.4, "labelOffset": 17.6, "rowPadding": 5, "labelLimit": 500}}}},
            {"data": {"values": [{}]}, "mark": {"type": "text", "text": "(D)", "font": "Lato", "fontSize": 29, "fontWeight": "bold", "color": "#000000", "align": "center", "baseline": "middle"},
             "encoding": {"x": {"datum": -1.797, "type": "quantitative"}, "y": {"datum": 2.766e15, "type": "quantitative"}}}
          ]
        }
      ]
    }
  ]
}
